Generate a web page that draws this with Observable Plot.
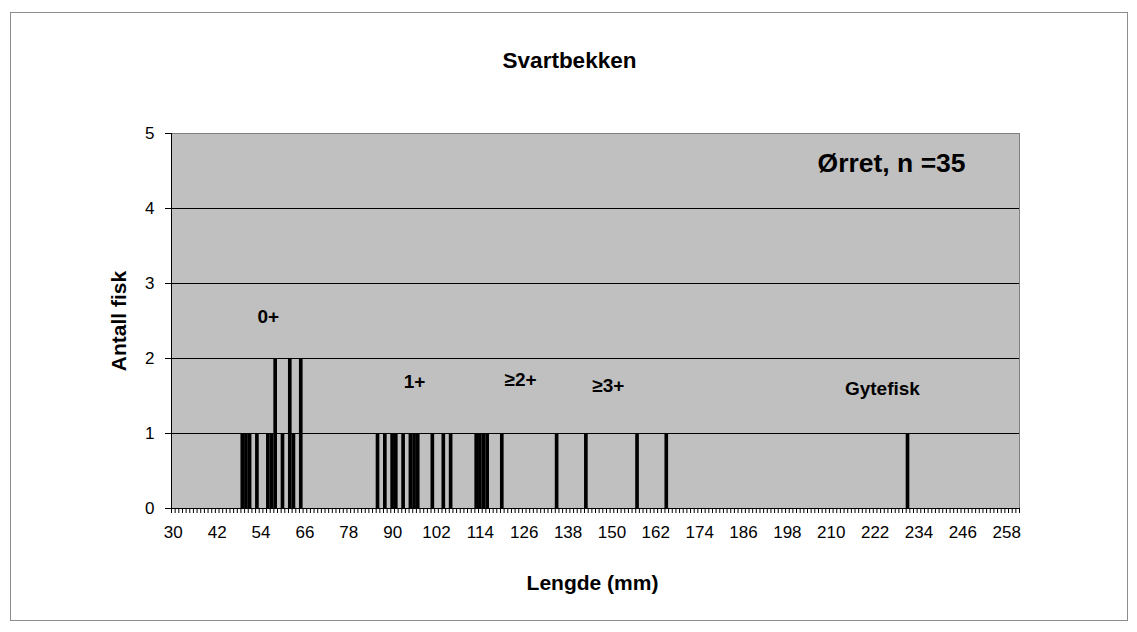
<!DOCTYPE html>
<html>
<head>
<meta charset="utf-8">
<script src="https://cdn.jsdelivr.net/npm/d3@7"></script>
<script src="https://cdn.jsdelivr.net/npm/@observablehq/plot@0.6"></script>
<style>
  html, body { margin: 0; padding: 0; background: #fff; }
  #wrap { position: relative; width: 1137px; height: 632px; }
  #border { position: absolute; left: 10px; top: 12px; width: 1116px; height: 607px; border: 1px solid #8c8c8c; pointer-events: none; }
</style>
</head>
<body>
<div id="wrap"><div id="chart"></div><div id="border"></div></div>
<script>
// Lengths (mm) that have fish, and number of fish at each length
const lengths = [49, 50, 51, 53, 56, 57, 58, 60, 62, 63, 65,
                 86, 88, 90, 91, 93, 95, 96, 97, 101, 104, 106,
                 113, 114, 115, 116, 120,
                 135, 143, 157, 165, 231];
const counts  = [1, 1, 1, 1, 1, 1, 2, 1, 2, 1, 2,
                 1, 1, 1, 1, 1, 1, 1, 1, 1, 1, 1,
                 1, 1, 1, 1, 1,
                 1, 1, 1, 1, 1];
const xTickLabels = [30, 42, 54, 66, 78, 90, 102, 114, 126, 138, 150, 162, 174, 186, 198, 210, 222, 234, 246, 258];
const yTicks = [0, 1, 2, 3, 4, 5];
const firstLength = 30, lastLength = 261;

// Age-group annotations (placed in data coordinates: length mm, count)
const annLabels = ["0+", "1+", "≥2+", "≥3+", "Gytefisk"];
const annX      = [56, 96, 125, 149, 224];
const annY      = [2.55, 1.69, 1.71, 1.64, 1.6];

const titleText = "Svartbekken";
const xTitle = "Lengde (mm)";
const yTitle = "Antall fisk";
const noteText = "Ørret, n =35";
const noteX = 226.5, noteY = 4.6;

const data = lengths.map((len, i) => ({len, count: counts[i]}));
const xMin = firstLength - 0.5, xMax = lastLength + 0.5;
const minorTicks = d3.range(xMin, xMax + 0.01, 1);
const font = "'Liberation Sans', Arial, sans-serif";

const chart = Plot.plot({
  width: 1137,
  height: 632,
  marginLeft: 171,
  marginRight: 118,
  marginTop: 133,
  marginBottom: 124,
  style: {fontFamily: font, color: "#000", background: "transparent", overflow: "visible"},
  x: {domain: [xMin, xMax]},
  y: {domain: [0, 5]},
  marks: [
    Plot.frame({fill: "#C0C0C0", stroke: "#808080"}),
    Plot.ruleY([1, 2, 3, 4], {stroke: "#000", strokeWidth: 1}),
    Plot.rectY(data, {x1: d => d.len - 0.5, x2: d => d.len + 0.5, y1: 0, y2: "count", fill: "#000"}),
    Plot.ruleX([xMin], {stroke: "#000"}),
    Plot.ruleY([0], {stroke: "#000"}),
    Plot.axisY(yTicks, {tickSize: 6, tickPadding: 11, label: null, stroke: "#000", tickFormat: d3.format("d")}),
    Plot.axisX(minorTicks, {tickSize: 5, tickFormat: () => "", label: null, stroke: "#000"}),
    Plot.axisX(xTickLabels, {tickSize: 0, tickPadding: 17, label: null, tickFormat: d3.format("d")}),
    Plot.text(annLabels, {x: (d, i) => annX[i], y: (d, i) => annY[i], text: d => d, fontSize: 19, fontWeight: "bold", fill: "#000"}),
    Plot.text([noteText], {x: noteX, y: noteY, text: d => d, fontSize: 26.5, fontWeight: "bold", fill: "#000"}),
    Plot.text([titleText], {frameAnchor: "top", dx: -26, dy: -73, lineAnchor: "middle", fontSize: 22.5, fontWeight: "bold", fill: "#000"}),
    Plot.text([xTitle], {frameAnchor: "bottom", dx: -3, dy: 75, lineAnchor: "middle", fontSize: 21, fontWeight: "bold", fill: "#000"}),
    Plot.text([yTitle], {frameAnchor: "left", dx: -52, rotate: -90, textAnchor: "middle", lineAnchor: "middle", fontSize: 21, fontWeight: "bold", fill: "#000"})
  ]
});
// enlarge the tick-label font of both axes
d3.select(chart).selectAll("g[aria-label='x-axis tick label'], g[aria-label='y-axis tick label']")
  .attr("font-size", 17)
  .style("font-size", "17px")
  .selectAll("text").style("font-size", "17px");
document.getElementById("chart").appendChild(chart);
</script>
</body>
</html>
